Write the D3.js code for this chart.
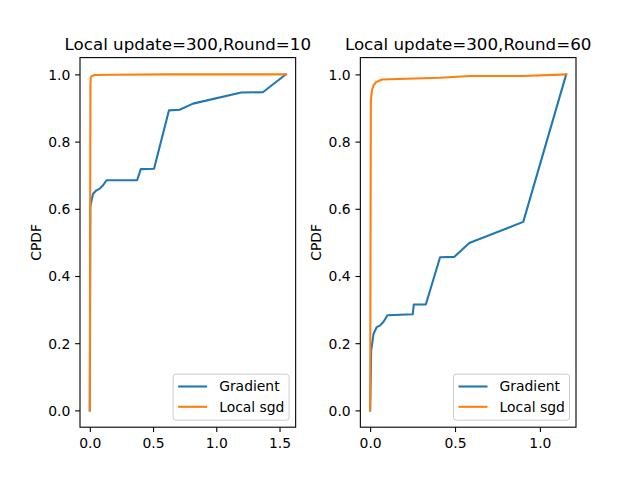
<!DOCTYPE html>
<html>
<head>
<meta charset="utf-8">
<script src="https://cdn.jsdelivr.net/npm/d3@7"></script>
<style>
  body { margin: 0; background: #fff; }
  text { font-family: "DejaVu Sans", sans-serif; fill: #000; }
</style>
</head>
<body>
<script>
// values
const titles = ['Local update=300,Round=10', 'Local update=300,Round=60']
const seriesNames = ['Gradient', 'Local sgd']
const seriesColors = ['#1f77b4', '#ff7f0e']
const xTicks10 = [0, 0.5, 1.0, 1.5]
const xTicks60 = [0, 0.5, 1.0]
const yTicks = [0, 0.2, 0.4, 0.6, 0.8, 1.0]

const gradient10 = [[0, 0], [0.004, 0.605], [0.008, 0.615], [0.026, 0.645], [0.053, 0.655], [0.079, 0.66],
    [0.105, 0.67], [0.132, 0.685], [0.374, 0.685], [0.403, 0.718], [0.508, 0.719], [0.626, 0.893],
    [0.71, 0.895], [0.816, 0.913], [1.197, 0.946], [1.368, 0.947], [1.55, 1.0]]
const sgd10 = [[0, 0], [0.005, 0.97], [0.007, 0.99], [0.015, 0.995], [0.04, 0.998], [0.2, 0.999], [0.6, 1.0], [1.55, 1.0]]

const gradient60 = [[0, 0], [0.006, 0.179], [0.02, 0.228], [0.039, 0.248], [0.059, 0.253], [0.078, 0.263],
    [0.102, 0.283], [0.251, 0.286], [0.257, 0.315], [0.328, 0.315], [0.412, 0.456], [0.496, 0.457],
    [0.584, 0.498], [0.902, 0.561], [1.155, 1.0]]
const sgd60 = [[0, 0], [0.004, 0.92], [0.01, 0.952], [0.02, 0.967], [0.035, 0.977], [0.069, 0.985],
    [0.41, 0.99], [0.588, 0.995], [0.9, 0.995], [1.155, 1.0]]

const panels = [
    { title: titles[0], series: [gradient10, sgd10], xmax: 1.55, ticks: xTicks10 },
    { title: titles[1], series: [gradient60, sgd60], xmax: 1.155, ticks: xTicks60 }
]

const width = 640, height = 480
const fs = 13.9
const axTop = 57.6, axBottom = 427.2
const axW = 215.65
const lefts = [80, 360.35]

const svg = d3.select('body').append('svg')
    .attr('width', width)
    .attr('height', height)

panels.forEach((p, k) => {
    const x0 = lefts[k], x1 = x0 + axW
    const x = d3.scaleLinear().domain([-0.05 * p.xmax, 1.05 * p.xmax]).range([x0, x1])
    const y = d3.scaleLinear().domain([-0.05, 1.05]).range([axBottom, axTop])

    const g = svg.append('g')

    // lines
    const line = d3.line().x(d => x(d[0])).y(d => y(d[1]))
    p.series.forEach((s, i) => {
        g.append('path')
            .datum(s)
            .attr('d', line)
            .attr('fill', 'none')
            .attr('stroke', seriesColors[i])
            .attr('stroke-width', 2.08)
            .attr('stroke-linejoin', 'round')
            .attr('stroke-linecap', 'square')
    })

    // axes
    const xa = g.append('g')
        .attr('transform', `translate(0,${axBottom})`)
        .call(d3.axisBottom(x).tickValues(p.ticks).tickFormat(d3.format('.1f')).tickSize(4.86).tickPadding(4.86))
    const ya = g.append('g')
        .attr('transform', `translate(${x0},0)`)
        .call(d3.axisLeft(y).tickValues(yTicks).tickFormat(d3.format('.1f')).tickSize(4.86).tickPadding(4.86))
    for (const a of [xa, ya]) {
        a.select('.domain').remove()
        a.selectAll('line').attr('stroke', '#000').attr('stroke-width', 1.1)
        a.selectAll('text').attr('font-size', fs).attr('font-family', 'DejaVu Sans').attr('fill', '#000')
    }
    ya.selectAll('text').attr('dy', '0.35em')
    xa.selectAll('text').attr('dy', '0.78em')

    // frame
    g.append('rect')
        .attr('x', x0).attr('y', axTop)
        .attr('width', axW).attr('height', axBottom - axTop)
        .attr('fill', 'none')
        .attr('stroke', '#000')
        .attr('stroke-width', 1.1)

    // title
    g.append('text')
        .attr('x', (x0 + x1) / 2)
        .attr('y', 49.5)
        .attr('text-anchor', 'middle')
        .attr('font-size', 16.7)
        .text(p.title)

    // y label
    g.append('text')
        .attr('transform', `translate(${x0 - 39},${(axTop + axBottom) / 2}) rotate(-90)`)
        .attr('text-anchor', 'middle')
        .attr('font-size', fs)
        .text('CPDF')

    // legend
    const lw = 116, lh = 46
    const lx = x1 - 6.5 - lw, ly = axBottom - 7 - lh
    const leg = g.append('g')
    leg.append('rect')
        .attr('x', lx).attr('y', ly)
        .attr('width', lw).attr('height', lh)
        .attr('rx', 2.8)
        .attr('fill', 'white').attr('fill-opacity', 0.8)
        .attr('stroke', '#cccccc').attr('stroke-width', 1)
    seriesNames.forEach((name, i) => {
        const cy = ly + 12.3 + i * 20.3
        leg.append('line')
            .attr('x1', lx + 5).attr('x2', lx + 34)
            .attr('y1', cy).attr('y2', cy)
            .attr('stroke', seriesColors[i]).attr('stroke-width', 2.08)
        leg.append('text')
            .attr('x', lx + 46).attr('y', cy)
            .attr('dy', '0.35em')
            .attr('font-size', fs)
            .text(name)
    })
})
</script>
</body>
</html>
